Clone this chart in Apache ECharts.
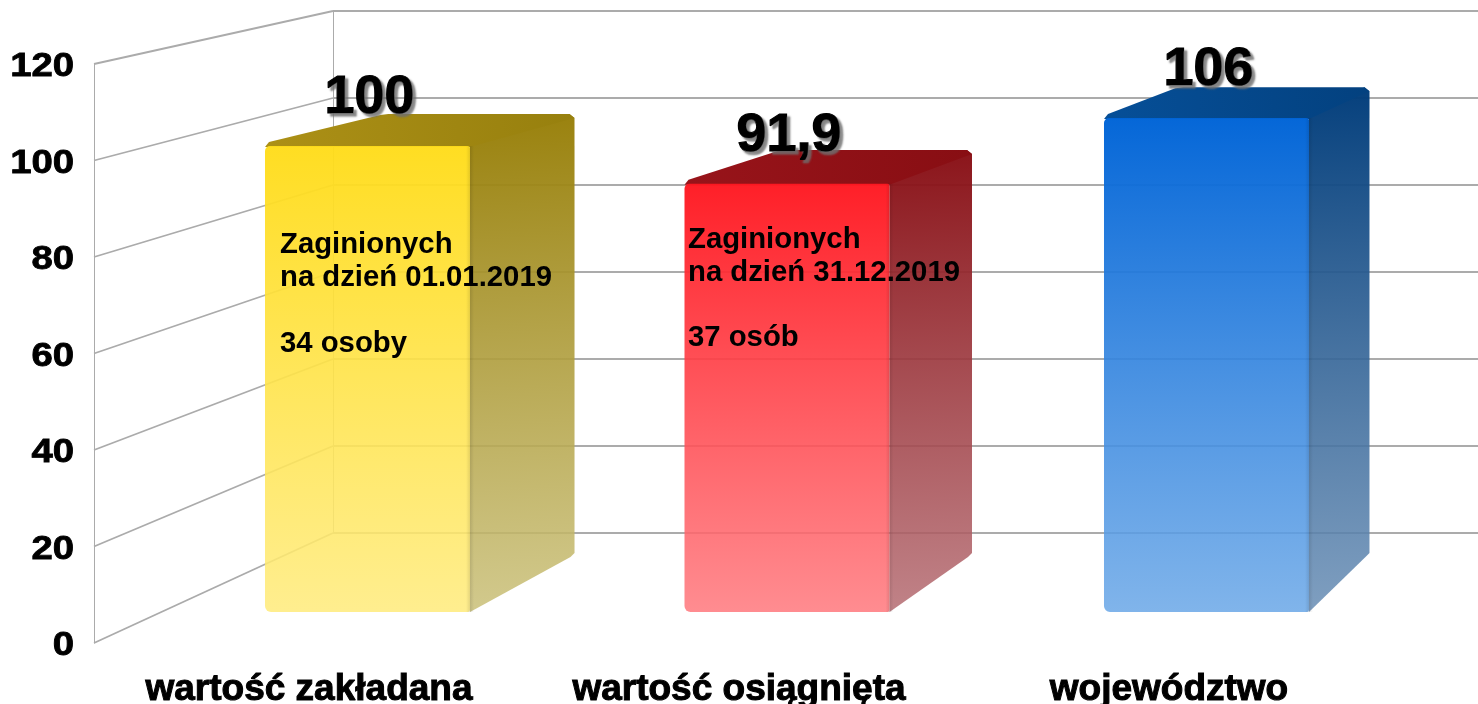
<!DOCTYPE html>
<html>
<head>
<meta charset="utf-8">
<title>Zaginieni</title>
<script src="https://cdn.jsdelivr.net/npm/echarts@6/dist/echarts.min.js"></script>
<style>
  html, body { margin: 0; padding: 0; background: #fff; }
  #main { width: 1478px; height: 704px; }
</style>
</head>
<body>
<div id="main"></div>
<script>
// dane
const categories = ['wartość zakładana', 'wartość osiągnięta', 'województwo'];
const values = [100, 91.9, 106];
const valueLabels = ['100', '91,9', '106'];
const wallTicks = [0, 20, 40, 60, 80, 100, 120];
const notes = [
    'Zaginionych\nna dzień 01.01.2019\n\n34 osoby',
    'Zaginionych\nna dzień 31.12.2019\n\n37 osób'
];

// kolory ścian słupków (góra, dół); przezroczystość rośnie ku dołowi, siatka prześwituje
const frontColors = [
    ['rgba(255,220,25,0.96)', 'rgba(255,235,123,0.85)'],
    ['rgba(255,22,31,0.96)', 'rgba(255,120,125,0.85)'],
    ['rgba(0,100,215,0.98)', 'rgba(106,167,231,0.85)']
];
const sideColors = [
    ['rgba(150,125,5,0.97)', 'rgba(202,192,121,0.85)'],
    ['rgba(135,12,18,0.97)', 'rgba(181,109,115,0.85)'],
    ['rgba(0,60,122,0.98)', 'rgba(105,142,181,0.85)']
];
// wierzch: lewy dół -> prawa góra
const topColors = [['#AC9016', '#97800E'], ['#98141A', '#880E13'], ['#064F98', '#03417F']];

const FONT = '"Liberation Sans", Arial, sans-serif';
const LINE = '#ABABAB';

// rzut przedniej płaszczyzny słupków na tylną (perspektywa)
const backX = x => 575 + (x - 470.5) * 0.9475;
const backY = y => 114 + (y - 146) * 0.9528;

function vgrad(c, x2) {
    return new echarts.graphic.LinearGradient(0, 0, x2 || 0, 1, [
        { offset: 0, color: c[0] },
        { offset: 1, color: c[1] }
    ]);
}

function renderBar(params, api) {
    const i = api.value(0);
    const top = api.coord([i, api.value(1)]);
    const base = api.coord([i, 0]);
    const w = api.size([1, 0])[0] * 0.4887;
    const x0 = top[0] - w / 2;
    const x1 = top[0] + w / 2;
    const y0 = top[1];
    const y1 = base[1];
    const bx0 = backX(x0), bx1 = backX(x1);
    const by0 = backY(y0), by1 = backY(y1);

    return {
        type: 'group',
        children: [
            {
                type: 'polygon',
                shape: { points: [[x1, y0], [bx1 - 5, by0], [bx1, by0 + 4], [bx1, by1 - 5], [bx1 - 4, by1 - 1], [x1, y1]] },
                style: { fill: vgrad(sideColors[i], 0.3) }
            },
            {
                type: 'polygon',
                shape: { points: [[x0, y0 + 1], [x0 + 4, y0 - 4], [bx0, by0 + 1], [bx0 + 8, by0], [bx1 - 5, by0], [bx1, by0 + 4], [x1, y0 + 1]] },
                style: {
                    fill: new echarts.graphic.LinearGradient(0, 1, 1, 0, [
                        { offset: 0, color: topColors[i][0] },
                        { offset: 1, color: topColors[i][1] }
                    ])
                }
            },
            {
                type: 'rect',
                shape: { x: x0, y: y0, width: x1 - x0, height: y1 - y0, r: [5, 2, 2, 6] },
                style: { fill: vgrad(frontColors[i]) }
            },
            // miękka krawędź między przodem a bokiem
            {
                type: 'rect',
                shape: { x: x1 - 4, y: y0, width: 8, height: y1 - y0 },
                style: {
                    fill: new echarts.graphic.LinearGradient(0, 0, 1, 0, [
                        { offset: 0, color: 'rgba(0,0,0,0)' },
                        { offset: 0.5, color: 'rgba(0,0,0,0.1)' },
                        { offset: 1, color: 'rgba(0,0,0,0)' }
                    ])
                }
            },
            {
                type: 'text',
                z2: 10,
                style: {
                    text: valueLabels[i],
                    x: top[0] + 2,
                    y: y0 - 48,
                    align: 'center',
                    verticalAlign: 'middle',
                    font: 'bold 54px ' + FONT,
                    fill: '#000',
                    stroke: '#000',
                    lineWidth: 1.2,
                    textShadowColor: 'rgba(110,110,110,0.85)',
                    textShadowBlur: 2,
                    textShadowOffsetX: 3,
                    textShadowOffsetY: 3
                }
            }
        ]
    };
}

// linie lewej ściany: od krawędzi przedniej do tylnej, z opisem osi
function renderWallLine(params, api) {
    const v = api.value(1);
    const y = api.coord([0, v])[1];
    const x = params.coordSys.x;
    const yBack = 533 - (643 - y) * 522 / 579;
    return {
        type: 'group',
        children: [
            {
                type: 'line',
                shape: { x1: x, y1: y, x2: 333, y2: yBack },
                style: { stroke: LINE, lineWidth: 1.8 }
            },
            {
                type: 'text',
                x: 74,
                y: y + 3,
                scaleX: 1.16,
                style: {
                    text: String(v),
                    x: 0,
                    y: 0,
                    align: 'right',
                    verticalAlign: 'middle',
                    font: 'bold 33px ' + FONT,
                    fill: '#000',
                    stroke: '#000',
                    lineWidth: 0.8
                }
            }
        ]
    };
}

const chart = echarts.init(document.getElementById('main'), null, { renderer: 'canvas' });

chart.setOption({
    animation: false,
    backgroundColor: '#fff',
    grid: [
        { left: 94, width: 1290, top: 64, height: 579, outerBoundsMode: 'none' },
        { left: 333, right: 0, top: 11, height: 522, outerBoundsMode: 'none' },
        { left: 157.75, width: 1258.5, top: 52.8, height: 559.2, outerBoundsMode: 'none' }
    ],
    xAxis: [
        {
            type: 'category',
            gridIndex: 0,
            data: categories,
            axisLine: { show: false },
            axisTick: { show: false },
            axisLabel: {
                interval: 0,
                margin: 28,
                color: '#000',
                fontFamily: FONT,
                fontWeight: 'bold',
                fontSize: 37,
                textBorderColor: '#000',
                textBorderWidth: 1
            }
        },
        { type: 'value', gridIndex: 1, show: false },
        { type: 'category', gridIndex: 2, data: categories, show: false }
    ],
    yAxis: [
        {
            type: 'value',
            gridIndex: 0,
            min: 0,
            max: 120,
            interval: 20,
            axisLine: { show: true, lineStyle: { color: LINE, width: 1 } },
            axisTick: { show: false },
            splitLine: { show: false },
            axisLabel: { show: false }
        },
        {
            type: 'value',
            gridIndex: 1,
            min: 0,
            max: 120,
            interval: 20,
            axisLine: { show: true, lineStyle: { color: LINE, width: 1 } },
            axisTick: { show: false },
            axisLabel: { show: false },
            splitLine: { show: true, lineStyle: { color: LINE, width: 2 } }
        },
        { type: 'value', gridIndex: 2, min: 0, max: 120, interval: 20, show: false }
    ],
    series: [
        {
            type: 'custom',
            xAxisIndex: 0,
            yAxisIndex: 0,
            z: 1,
            silent: true,
            clip: false,
            renderItem: renderWallLine,
            encode: { x: 0, y: 1 },
            data: wallTicks.map(t => [0, t])
        },
        {
            type: 'custom',
            xAxisIndex: 2,
            yAxisIndex: 2,
            z: 5,
            clip: false,
            renderItem: renderBar,
            encode: { x: 0, y: 1 },
            data: values.map((v, i) => [i, v])
        }
    ],
    graphic: [
        {
            type: 'text',
            left: 280,
            top: 228,
            z: 20,
            style: { text: notes[0], font: 'bold 29.3px ' + FONT, fill: '#000', lineHeight: 33 }
        },
        {
            type: 'text',
            left: 688,
            top: 223.5,
            z: 20,
            style: { text: notes[1], font: 'bold 29.3px ' + FONT, fill: '#000', lineHeight: 32.7 }
        }
    ]
});
</script>
</body>
</html>
